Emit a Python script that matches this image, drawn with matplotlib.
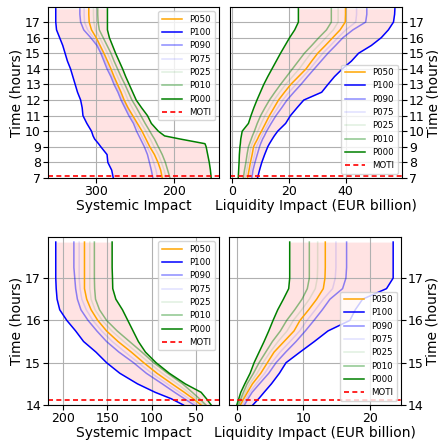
import matplotlib
matplotlib.use('Agg')
import matplotlib.pyplot as plt
from matplotlib.ticker import MultipleLocator

# ---- morning window (7h - 18h) ----
t_am = [7.0, 7.5, 8.0, 8.5, 9.0, 9.2, 9.5, 9.7, 10.0, 10.5, 11.0, 11.5, 12.0,
        12.5, 13.0, 13.5, 14.0, 14.5, 15.0, 15.5, 16.0, 16.5, 17.0, 17.5, 17.85]

sys_am = {
    'P100': [278, 280, 285, 286, 294, 297, 302, 304, 306, 312, 317, 318, 320,
             324, 327, 330, 333, 337, 340, 343, 347, 351, 352, 352, 352],
    'P090': [227, 229, 231.5, 234, 238, 240, 243, 245, 248, 252, 258, 263, 268,
             272, 277, 281, 286, 290, 294, 299, 307, 316, 320, 321, 321],
    'P075': [221, 223, 226, 229.5, 234.5, 236.5, 239.5, 241.5, 244.5, 249.5, 255.5, 261, 266,
             270, 274.5, 279, 283.5, 288, 292, 297, 303.5, 311, 315, 315.5, 315.5],
    'P050': [215, 217, 220.5, 225, 231, 233, 236, 238, 241, 247, 253, 259, 264,
             268, 272.5, 277, 281, 285.5, 290, 295, 300, 306, 309, 309.5, 309.5],
    'P025': [210, 212.5, 216, 220, 225.5, 227.5, 230.5, 233, 236, 242, 248, 253.5, 259,
             263, 268, 272.5, 277, 281, 285.5, 290.5, 295.5, 301, 303, 303.5, 303.5],
    'P010': [205, 208, 211, 215, 220, 222, 225, 227.5, 231, 237, 242.5, 248, 254,
             258.5, 263, 268, 272.5, 277, 281, 286, 291, 296, 297.5, 298, 298],
    'P000': [152, 153, 154.5, 156.5, 158.5, 160, 192, 212, 220, 229, 234, 241.5, 248.5,
             253, 257.5, 262, 266, 270.5, 275, 279, 283, 285.5, 285.5, 285.5, 285.5],
}

liq_am = {
    'P100': [8.9, 9.6, 10.4, 11.4, 12.5, 13.1, 14.1, 14.8, 16, 18.8, 20.5, 22.8, 25.2,
             31.5, 33.7, 36, 38.8, 42, 44.5, 49, 52.5, 55, 56.8, 57.2, 57.3],
    'P090': [6.9, 7.3, 8.0, 8.8, 9.6, 10.0, 10.7, 11.3, 12.1, 13.7, 15.4, 17.4, 19.3,
             21.7, 24.2, 26.5, 28.9, 31.3, 33.7, 36.4, 39, 42.5, 47, 47.4, 47.4],
    'P075': [6.1, 6.6, 7.2, 7.9, 8.5, 9, 9.8, 10.3, 11.2, 12.7, 14.2, 16, 17.8,
             20, 22.4, 24.9, 27.4, 29.6, 31.9, 34.6, 37.2, 40, 43.5, 43.8, 43.8],
    'P050': [5.4, 5.9, 6.4, 7.0, 7.5, 8.0, 8.9, 9.4, 10.3, 11.7, 13.1, 14.7, 16.3,
             18.4, 20.6, 23.3, 26, 28, 30.1, 32.8, 35.4, 38, 39.8, 39.9, 39.9],
    'P025': [4.6, 5.1, 5.6, 6.1, 6.6, 7.0, 7.8, 8.2, 9.0, 10.2, 11.5, 13.1, 14.7,
             16.7, 18.8, 21.2, 23.6, 25.6, 27.7, 30.4, 33, 35.6, 37.3, 37.3, 37.3],
    'P010': [3.9, 4.3, 4.8, 5.2, 5.7, 6.1, 6.7, 7.1, 7.8, 8.8, 10, 11.5, 13.1,
             15, 17, 19.1, 21.2, 23.3, 25.4, 28, 30.5, 33.2, 34.9, 34.9, 34.9],
    'P000': [2.1, 2.25, 2.4, 2.5, 2.7, 2.85, 3.0, 3.2, 3.5, 5.7, 6.6, 7.6, 8.7,
             9.9, 11.1, 12.5, 14, 15.5, 17, 18.6, 20.2, 22, 23.3, 23.3, 23.3],
}
moti_am = 7.15

# ---- afternoon window (14h - 18h) ----
t_pm = [14.0, 14.15, 14.3, 14.5, 14.75, 15.0, 15.25, 15.5, 15.75, 16.0, 16.25,
        16.5, 16.75, 17.0, 17.25, 17.5, 17.85]

sys_pm = {
    'P100': [64, 78, 96, 116, 136, 151, 163, 177, 186, 196, 204, 207, 208, 208.5, 208.5, 208.5, 208.5],
    'P090': [52, 63, 74, 88, 106, 120.5, 137, 151, 162, 172, 180, 184, 186, 187, 188, 188, 188],
    'P075': [48, 58, 68.5, 82.5, 100, 115, 130, 144.5, 156.5, 166.5, 174, 179, 181, 182, 182, 182, 182],
    'P050': [44, 53, 63, 77, 94, 109, 123, 138, 151, 161, 168.5, 173.5, 176, 176, 176, 176, 176],
    'P025': [41, 49.5, 58.5, 71, 88, 103, 117, 131.5, 145, 156, 164, 168.5, 170, 170, 170, 170, 170],
    'P010': [38.5, 46, 54, 65, 82, 97.7, 111, 125, 139, 151, 159, 163.5, 164.5, 164.8, 164.8, 164.8, 164.8],
    'P000': [32.6, 38, 44, 62, 80, 95, 107, 115, 121, 127, 133, 140.5, 144, 144.3, 144.7, 144.7, 144.7],
}

liq_pm = {
    'P100': [2.4, 3.3, 4.1, 5.2, 6.4, 7.4, 9.5, 11.65, 13.7, 17, 17.8, 18.9, 22.5, 23.5, 23.5, 23.5, 23.5],
    'P090': [1.15, 1.7, 2.3, 3.4, 4.8, 5.9, 7.35, 8.9, 10.3, 11.6, 12.85, 14.0, 15.9, 16.4, 16.5, 16.5, 16.5],
    'P075': [0.85, 1.4, 1.95, 2.9, 4.2, 5.25, 6.5, 8.0, 9.45, 10.55, 11.8, 13.0, 14.4, 14.8, 14.9, 14.9, 14.9],
    'P050': [0.55, 1.05, 1.6, 2.35, 3.6, 4.6, 5.6, 7.1, 8.6, 9.5, 10.8, 12.0, 13.0, 13.25, 13.3, 13.3, 13.3],
    'P025': [0.4, 0.8, 1.3, 1.95, 3.05, 3.95, 5.0, 6.2, 7.55, 8.5, 9.75, 10.9, 11.8, 12.1, 12.15, 12.15, 12.15],
    'P010': [0.25, 0.6, 1.0, 1.55, 2.5, 3.35, 4.35, 5.35, 6.55, 7.5, 8.7, 9.8, 10.6, 10.9, 10.9, 10.9, 10.9],
    'P000': [0.0, 0.3, 0.6, 1.2, 2.0, 2.6, 3.35, 4.1, 4.8, 5.45, 6.15, 7.0, 7.8, 7.95, 7.95, 7.95, 7.95],
}
moti_pm = 14.13

ordre = ['P050', 'P100', 'P090', 'P075', 'P025', 'P010', 'P000']
estilos = {
    'P050': ('orange', 1.0),
    'P100': ('blue', 1.0),
    'P090': ('blue', 0.45),
    'P075': ('blue', 0.12),
    'P025': ('green', 0.12),
    'P010': ('green', 0.45),
    'P000': ('green', 1.0),
}


def painel(ax, t, dados, moti, xlabel, passo_x, ylim, inverter, direita, xlim=None):
    ax.fill_betweenx(t, dados['P100'], dados['P000'], color='red', alpha=0.11, lw=0)
    for nome in ordre:
        cor, alfa = estilos[nome]
        ax.plot(dados[nome], t, color=cor, alpha=alfa, lw=1.1, label=nome)
    ax.axhline(moti, color='red', ls=(0, (3, 2)), lw=1.2, label='MOTI')
    ax.set_ylim(*ylim)
    if xlim is not None:
        ax.set_xlim(*xlim)
    ax.yaxis.set_major_locator(MultipleLocator(1))
    ax.xaxis.set_major_locator(MultipleLocator(passo_x))
    if inverter:
        ax.invert_xaxis()
    ax.grid(True, color='#b0b0b0', lw=0.8)
    ax.set_xlabel(xlabel, fontsize=10, labelpad=1)
    ax.set_ylabel('Time (hours)', fontsize=10, labelpad=1)
    ax.tick_params(labelsize=9, length=3.5, pad=1.5)
    if direita:
        ax.yaxis.tick_right()
        ax.yaxis.set_label_position('right')
        ax.legend(loc='lower right', fontsize=6.2, handlelength=2.4)
    else:
        ax.legend(loc='upper right', fontsize=6.2, handlelength=2.4)


fig = plt.figure(figsize=(4.39, 4.41), dpi=100)
ax1 = fig.add_axes([0.1093, 0.5964, 0.3895, 0.3878])
ax2 = fig.add_axes([0.5239, 0.5964, 0.3918, 0.3878])
ax3 = fig.add_axes([0.1093, 0.0816, 0.3895, 0.3810])
ax4 = fig.add_axes([0.5216, 0.0816, 0.3918, 0.3810])

painel(ax1, t_am, sys_am, moti_am, 'Systemic Impact', 100, (7, 17.97), True, False)
painel(ax2, t_am, liq_am, moti_am, 'Liquidity Impact (EUR billion)', 20, (7, 17.97), False, True,
       xlim=(-0.8, 59.8))
painel(ax3, t_pm, sys_pm, moti_pm, 'Systemic Impact', 50, (14, 17.97), True, False)
painel(ax4, t_pm, liq_pm, moti_pm, 'Liquidity Impact (EUR billion)', 10, (14, 17.97), False, True)

fig.savefig('out.png', dpi=100)
